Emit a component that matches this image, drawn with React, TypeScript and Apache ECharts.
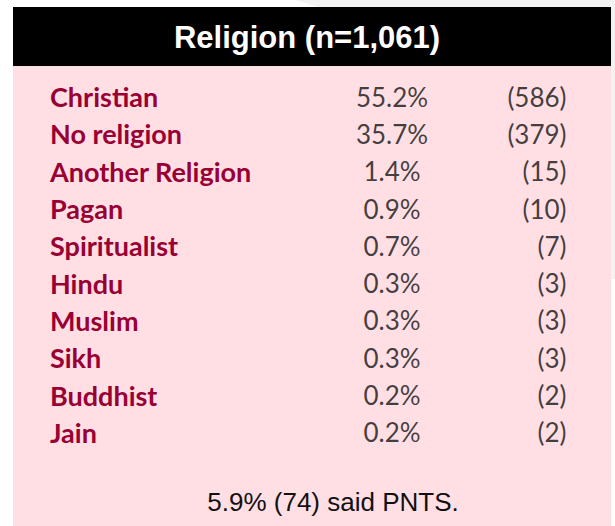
import React, { useEffect, useRef } from "react";
import * as echarts from "echarts";

const categories = [
  "Christian",
  "No religion",
  "Another Religion",
  "Pagan",
  "Spiritualist",
  "Hindu",
  "Muslim",
  "Sikh",
  "Buddhist",
  "Jain",
];
const percents = [55.2, 35.7, 1.4, 0.9, 0.7, 0.3, 0.3, 0.3, 0.2, 0.2];
const counts = [586, 379, 15, 10, 7, 3, 3, 3, 2, 2];
const columns = ["Percent", "Count"];
const titleText = "Religion (n=1,061)";
const footnote = "5.9% (74) said PNTS.";

const CRIMSON = "#990033";
const PINK = "#ffdfe4";
const GRAY = "#f2f2f2";
const NUM = "#111111";

export default function App() {
  const ref = useRef<HTMLDivElement>(null);
  useEffect(() => {
    if (!ref.current) return;
    const chart = echarts.init(ref.current, undefined, { renderer: "svg" });
    const numFont = { fontFamily: "Lato", fontSize: 26 };
    chart.setOption({
      animation: false,
      backgroundColor: "#ffffff",
      graphic: [
        {
          type: "polygon",
          z: -10,
          shape: {
            points: [
              [296, 0],
              [615, 0],
              [615, 279],
              [611, 279],
              [611, 7],
              [318, 7],
            ],
          },
          style: { fill: GRAY },
        },
        { type: "rect", z: -10, shape: { x: 13, y: 7, width: 598, height: 59 }, style: { fill: "#000000" } },
        { type: "rect", z: -10, shape: { x: 13, y: 66, width: 598, height: 460 }, style: { fill: PINK } },
        {
          type: "text",
          z: 10,
          x: 307,
          y: 37,
          style: {
            text: titleText,
            fill: "#ffffff",
            font: "bold 31px 'Liberation Sans', Arial, sans-serif",
            align: "center",
            verticalAlign: "middle",
          },
        },
        {
          type: "text",
          z: 10,
          x: 333,
          y: 502,
          style: {
            text: footnote,
            fill: "#111111",
            font: "26px 'Liberation Sans', Arial, sans-serif",
            align: "center",
            verticalAlign: "middle",
          },
        },
      ],
      grid: [
        { left: 50, top: 78, height: 373, width: 300 },
        { left: 392, right: 48, top: 78, height: 373 },
      ],
      xAxis: [
        { type: "value", gridIndex: 0, show: false },
        { type: "category", gridIndex: 1, data: columns, boundaryGap: false, show: false },
      ],
      yAxis: [
        {
          type: "category",
          gridIndex: 0,
          data: categories,
          inverse: true,
          axisLine: { show: false },
          axisTick: { show: false },
          splitLine: { show: false },
          axisLabel: {
            align: "left",
            margin: 0,
            color: CRIMSON,
            fontWeight: "bold",
            fontFamily: "Lato",
            fontSize: 27,
          },
        },
        { type: "category", gridIndex: 1, data: categories, inverse: true, show: false },
      ],
      series: [
        {
          type: "scatter",
          xAxisIndex: 1,
          yAxisIndex: 1,
          symbolSize: 1,
          itemStyle: { color: "rgba(0,0,0,0)" },
          data: percents.map((p, i) => [columns[0], categories[i], p]),
          label: {
            show: true,
            position: "inside",
            color: NUM,
            ...numFont,
            formatter: (d: any) => d.value[2].toFixed(1) + "%",
          },
        },
        {
          type: "scatter",
          xAxisIndex: 1,
          yAxisIndex: 1,
          symbolSize: 1,
          itemStyle: { color: "rgba(0,0,0,0)" },
          data: counts.map((c, i) => [columns[1], categories[i], c]),
          label: {
            show: true,
            position: "left",
            distance: 0,
            color: NUM,
            ...numFont,
            formatter: (d: any) => "(" + d.value[2] + ")",
          },
        },
      ],
    });
    return () => chart.dispose();
  }, []);
  return (
    <div
      ref={ref}
      style={{ position: "absolute", left: 0, top: 0, width: 615, height: 526 }}
    />
  );
}
